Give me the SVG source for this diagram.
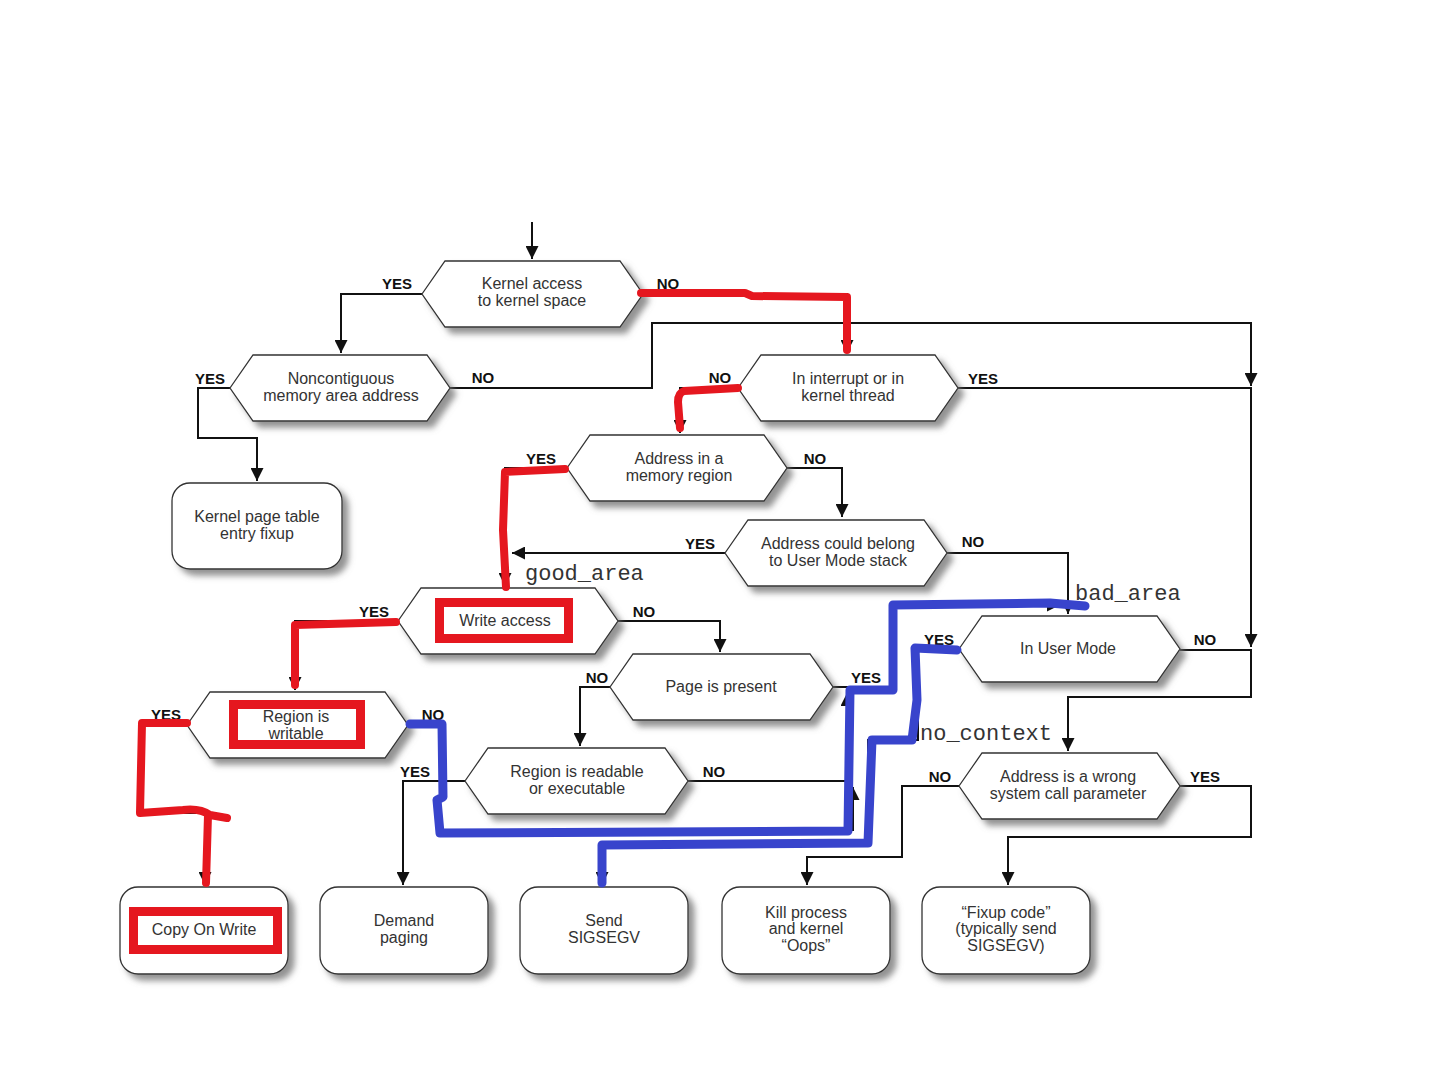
<svg xmlns="http://www.w3.org/2000/svg" width="1440" height="1080" viewBox="0 0 1440 1080">
<defs>
<filter id="sh" x="-10%" y="-20%" width="130%" height="150%">
<feDropShadow dx="6" dy="6" stdDeviation="3" flood-color="#777" flood-opacity="0.8"/>
</filter>
<marker id="ar" viewBox="0 0 10 10" refX="10" refY="5" markerWidth="13" markerHeight="13" markerUnits="userSpaceOnUse" orient="auto">
<path d="M0,0 L10,5 L0,10 z" fill="#111"/>
</marker>
</defs>
<style>
.hex{fill:#fff;stroke:#333;stroke-width:1.3;filter:url(#sh)}
.box{fill:#fff;stroke:#333;stroke-width:1.3;filter:url(#sh)}
.t{font-family:"Liberation Sans",Arial,sans-serif;font-size:16px;fill:#333;text-anchor:middle}
.l{font-family:"Liberation Sans",Arial,sans-serif;font-size:15px;font-weight:bold;fill:#111;text-anchor:middle}
.m{font-family:"Liberation Mono","DejaVu Sans Mono",monospace;font-size:22px;fill:#333}
.c{fill:none;stroke:#111;stroke-width:2}
.ca{fill:none;stroke:#111;stroke-width:2;marker-end:url(#ar)}
.red{fill:none;stroke:#e5171f;stroke-width:8;stroke-linecap:round;stroke-linejoin:round}
.redr{fill:none;stroke:#e5171f;stroke-width:9}
.blue{fill:none;stroke:#3844cc;stroke-width:9;stroke-linecap:round;stroke-linejoin:round}
</style>
<rect width="1440" height="1080" fill="#fff"/>

<g id="connectors">
<path class="ca" d="M532,222 V259"/>
<path class="ca" d="M422,294 H341 V353"/>
<path class="ca" d="M643,294 H847 V353"/>
<path class="ca" d="M230,388 H198 V438 H257 V481"/>
<path class="ca" d="M450,388 H652 V323 H1251 V386"/>
<path class="ca" d="M958,388 H1251 V647"/>
<path class="ca" d="M1180,650 H1251 V697 H1068 V751"/>
<path class="ca" d="M738,388 H680 V433"/>
<path class="ca" d="M787,468 H842 V517"/>
<path class="ca" d="M567,468 H505 V586"/>
<path class="ca" d="M725,553 H512"/>
<path class="ca" d="M947,553 H1068 V614"/>
<path class="ca" d="M398,621 H295 V690"/>
<path class="ca" d="M618,621 H720 V652"/>
<path class="ca" d="M187,725 H142 V813 H205 V885"/>
<path class="ca" d="M408,725 H440 V830 H853 V787"/>
<path class="ca" d="M610,687 H580 V746"/>
<path class="ca" d="M833,687 H893 V605 H1060"/>
<path class="ca" d="M465,781 H403 V885"/>
<path class="ca" d="M688,781 H847 V693"/>
<path class="ca" d="M959,649 H918 V740 H868 V845 H602 V885"/>
<path class="ca" d="M959,786 H902 V857 H807 V885"/>
<path class="ca" d="M1180,786 H1251 V837 H1008 V885"/>
<text class="l" x="397" y="289">YES</text>
<text class="l" x="668" y="289">NO</text>
<text class="l" x="210" y="384">YES</text>
<text class="l" x="483" y="383">NO</text>
<text class="l" x="720" y="383">NO</text>
<text class="l" x="983" y="384">YES</text>
<text class="l" x="541" y="464">YES</text>
<text class="l" x="815" y="464">NO</text>
<text class="l" x="700" y="549">YES</text>
<text class="l" x="973" y="547">NO</text>
<text class="l" x="374" y="617">YES</text>
<text class="l" x="644" y="617">NO</text>
<text class="l" x="166" y="720">YES</text>
<text class="l" x="433" y="720">NO</text>
<text class="l" x="597" y="683">NO</text>
<text class="l" x="866" y="683">YES</text>
<text class="l" x="415" y="777">YES</text>
<text class="l" x="714" y="777">NO</text>
<text class="l" x="939" y="645">YES</text>
<text class="l" x="1205" y="645">NO</text>
<text class="l" x="940" y="782">NO</text>
<text class="l" x="1205" y="782">YES</text>
<text class="m" x="525" y="580">good_area</text>
<text class="m" x="1075" y="600">bad_area</text>
<text class="m" x="920" y="740">no_context</text>
</g>

<g id="n1"><polygon class="hex" points="422,294 445,261 620,261 643,294 620,327 445,327"/>
<text class="t" x="532" y="289">Kernel access</text><text class="t" x="532" y="306">to kernel space</text></g>
<g id="n2"><polygon class="hex" points="230,388 253,355 427,355 450,388 427,421 253,421"/>
<text class="t" x="341" y="384">Noncontiguous</text><text class="t" x="341" y="401">memory area address</text></g>
<g id="n3"><polygon class="hex" points="738,388 761,355 935,355 958,388 935,421 761,421"/>
<text class="t" x="848" y="384">In interrupt or in</text><text class="t" x="848" y="401">kernel thread</text></g>
<g id="n4"><polygon class="hex" points="567,468 590,435 764,435 787,468 764,501 590,501"/>
<text class="t" x="679" y="464">Address in a</text><text class="t" x="679" y="481">memory region</text></g>
<g id="n5"><polygon class="hex" points="725,553 748,520 924,520 947,553 924,586 748,586"/>
<text class="t" x="838" y="549">Address could belong</text><text class="t" x="838" y="566">to User Mode stack</text></g>
<g id="n6"><polygon class="hex" points="398,621 421,588 595,588 618,621 595,654 421,654"/>
<text class="t" x="505" y="626">Write access</text></g>
<g id="n7"><polygon class="hex" points="187,725 210,692 385,692 408,725 385,758 210,758"/>
<text class="t" x="296" y="722">Region is</text><text class="t" x="296" y="739">writable</text></g>
<g id="n8"><polygon class="hex" points="610,687 633,654 810,654 833,687 810,720 633,720"/>
<text class="t" x="721" y="692">Page is present</text></g>
<g id="n9"><polygon class="hex" points="465,781 488,748 665,748 688,781 665,814 488,814"/>
<text class="t" x="577" y="777">Region is readable</text><text class="t" x="577" y="794">or executable</text></g>
<g id="n10"><polygon class="hex" points="959,649 982,616 1157,616 1180,649 1157,682 982,682"/>
<text class="t" x="1068" y="654">In User Mode</text></g>
<g id="n11"><polygon class="hex" points="959,786 982,753 1157,753 1180,786 1157,819 982,819"/>
<text class="t" x="1068" y="782">Address is a wrong</text><text class="t" x="1068" y="799">system call parameter</text></g>

<g id="kp"><rect class="box" x="172" y="483" width="170" height="86" rx="18"/>
<text class="t" x="257" y="522">Kernel page table</text><text class="t" x="257" y="539">entry fixup</text></g>
<g id="cow"><rect class="box" x="120" y="887" width="168" height="87" rx="18"/>
<text class="t" x="204" y="935">Copy On Write</text></g>
<g id="dp"><rect class="box" x="320" y="887" width="168" height="87" rx="18"/>
<text class="t" x="404" y="926">Demand</text><text class="t" x="404" y="943">paging</text></g>
<g id="ss"><rect class="box" x="520" y="887" width="168" height="87" rx="18"/>
<text class="t" x="604" y="926">Send</text><text class="t" x="604" y="943">SIGSEGV</text></g>
<g id="kill"><rect class="box" x="722" y="887" width="168" height="87" rx="18"/>
<text class="t" x="806" y="918">Kill process</text><text class="t" x="806" y="934">and kernel</text><text class="t" x="806" y="951">“Oops”</text></g>
<g id="fix"><rect class="box" x="922" y="887" width="168" height="87" rx="18"/>
<text class="t" x="1006" y="918">“Fixup code”</text><text class="t" x="1006" y="934">(typically send</text><text class="t" x="1006" y="951">SIGSEGV)</text></g>

<g id="annotations">
<rect class="redr" x="439.5" y="602.5" width="129" height="36"/>
<rect class="redr" x="233.5" y="704.5" width="127" height="40"/>
<rect class="redr" x="133.5" y="911.5" width="144" height="38"/>
<path class="red" d="M641,293 L745,293 L752,296 L847,297 L847,350"/>
<path class="red" d="M738,388 L684,391 Q678,393 678,402 L680,428"/>
<path class="red" d="M565,469 L505,472 L503,530 L506,587"/>
<path class="red" d="M396,622 L295,625 L295,685"/>
<path class="red" d="M187,723 L142,723 L140,813 L183,810 Q200,808 210,815 L227,818 M208,815 L206,883"/>
<path class="blue" d="M410,724 L442,724 L443,797 L437,800 L440,833 L848,831 L850,690 L893,690 L893,605 L1050,603 L1085,606"/>
<path class="blue" d="M957,650 L915,648 L917,700 L912,740 L872,740 L868,843 L602,845 L602,883"/>
</g>
</svg>
